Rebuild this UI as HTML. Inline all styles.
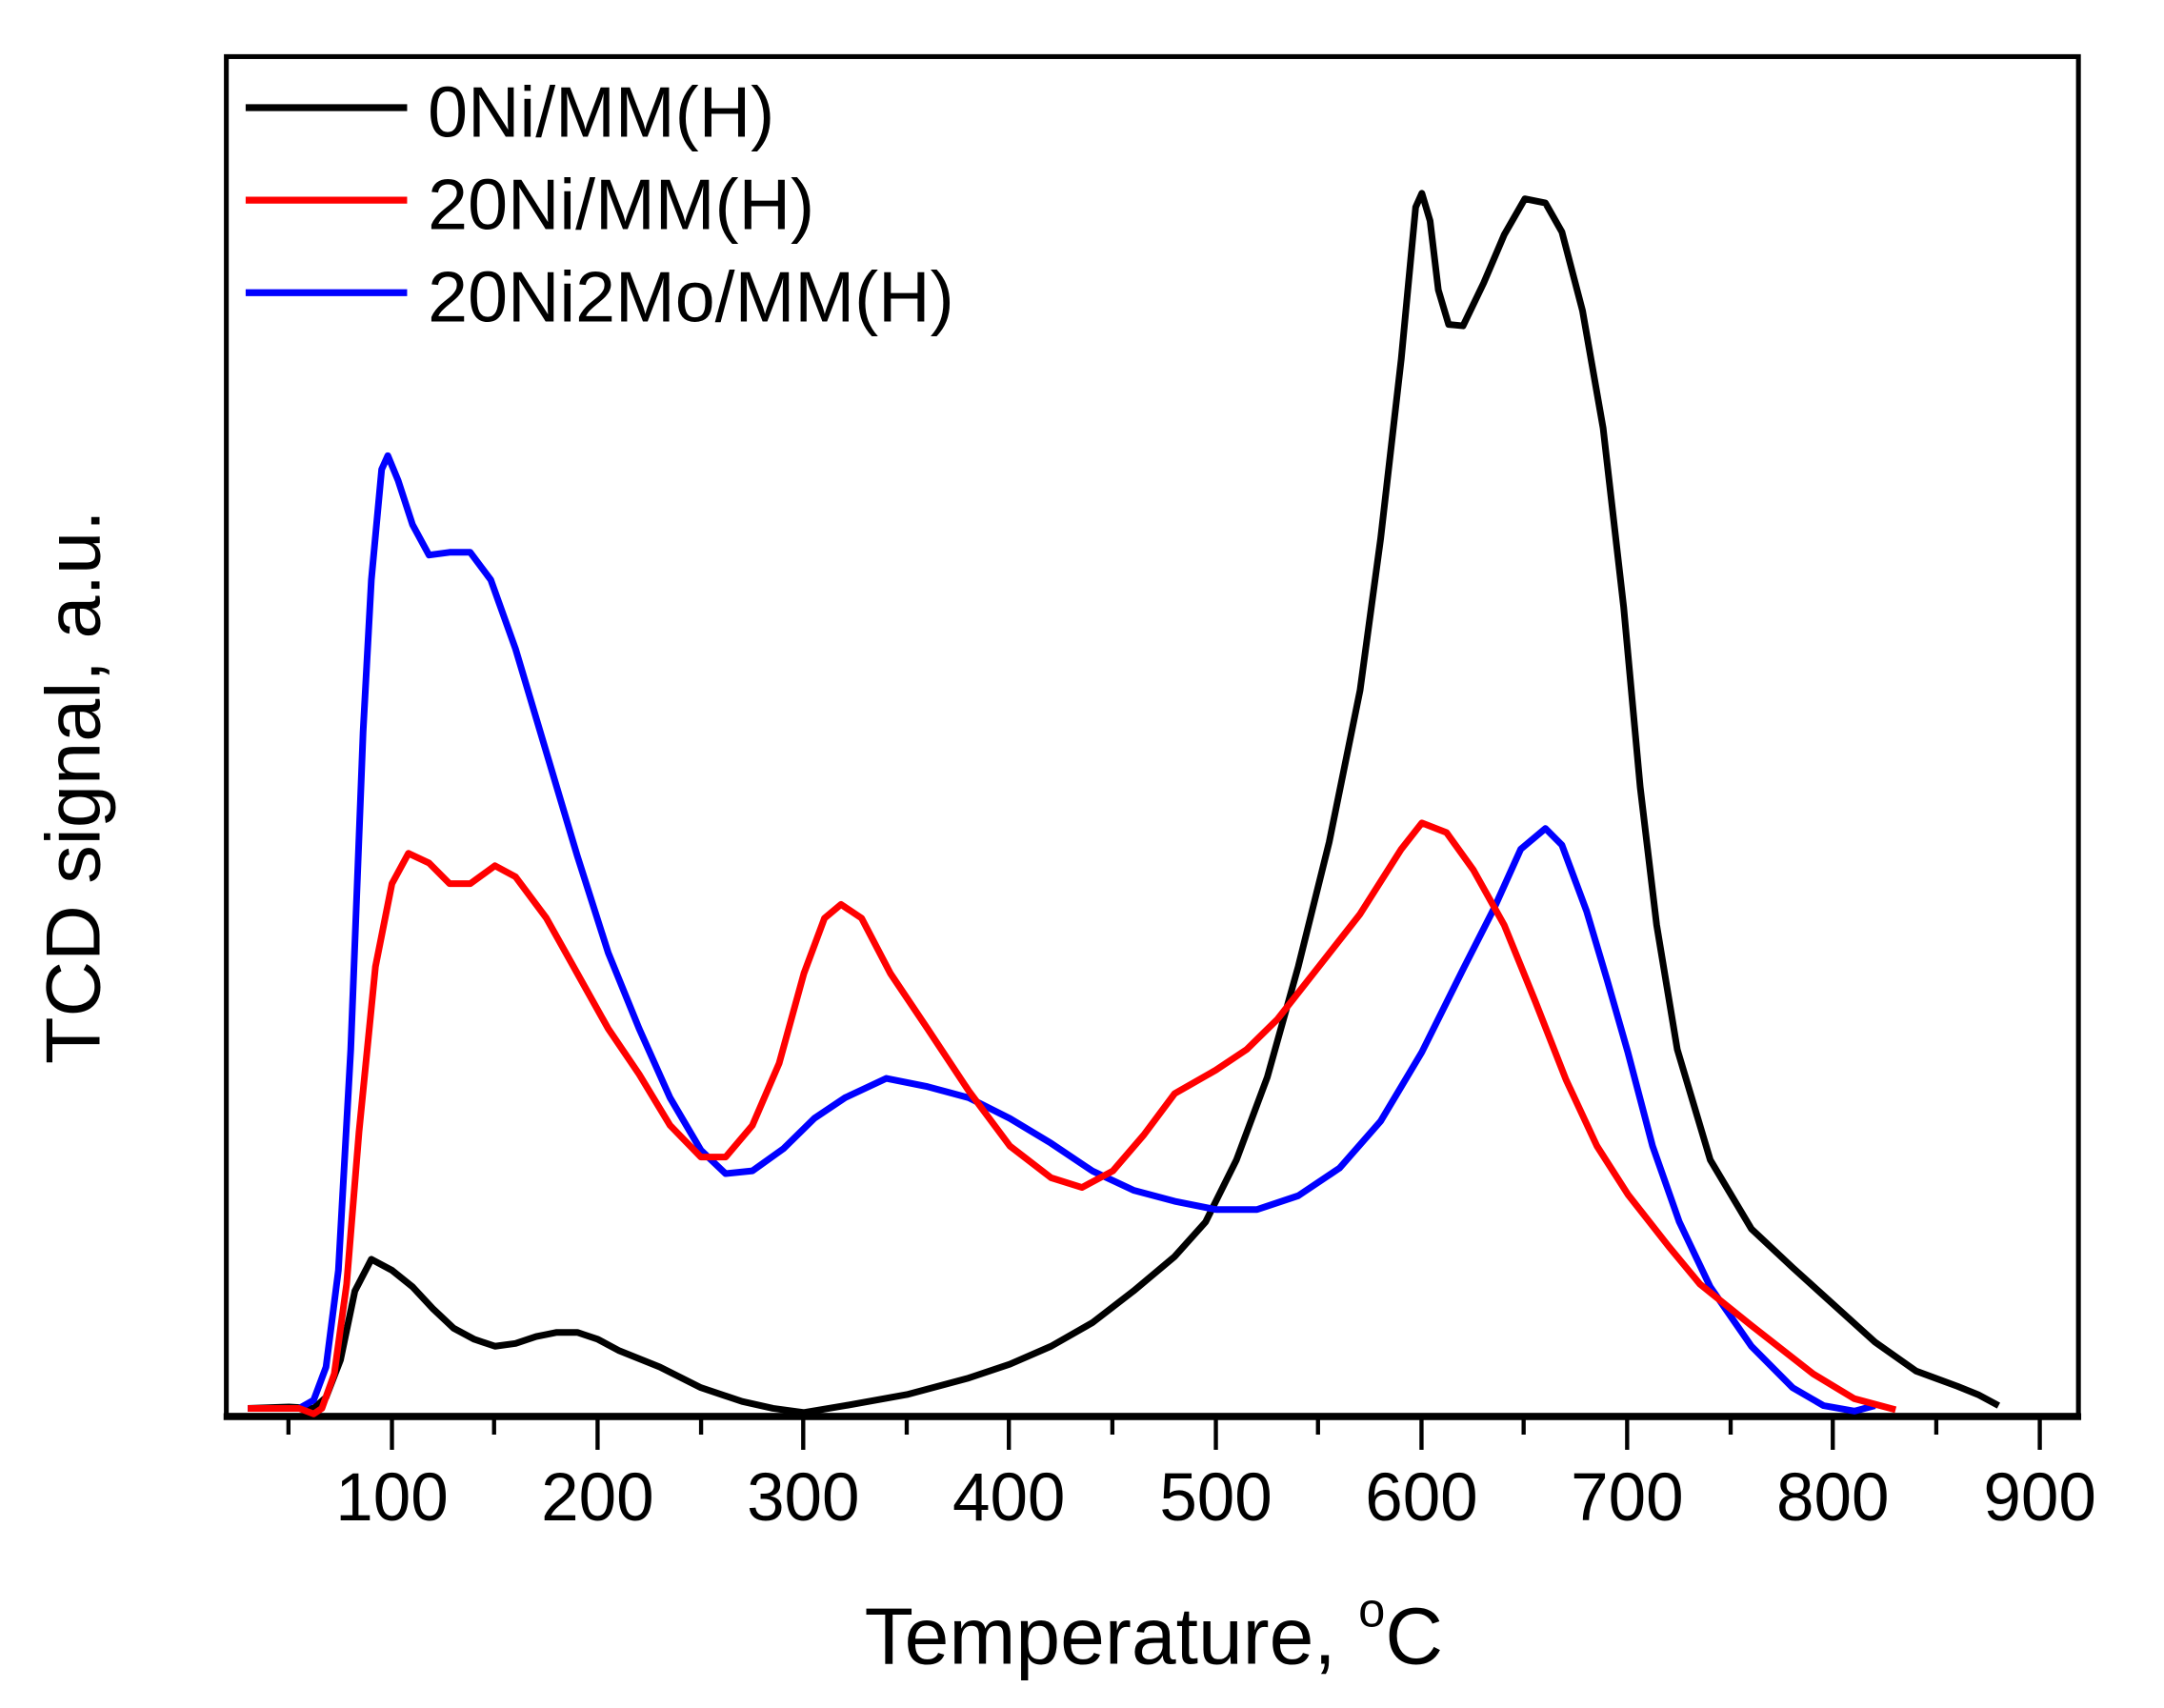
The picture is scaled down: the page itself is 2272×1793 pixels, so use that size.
<!DOCTYPE html>
<html><head><meta charset="utf-8"><style>
html,body{margin:0;padding:0;background:#fff;}
svg{display:block;}
text{font-family:"Liberation Sans",Arial,sans-serif;fill:#000;}
</style></head><body>
<svg width="2272" height="1793" viewBox="0 0 1568 1237" preserveAspectRatio="none" xmlns="http://www.w3.org/2000/svg">
<rect x="0" y="0" width="1568" height="1237" fill="#fff"/>
<!-- frame -->
<rect x="164" y="41" width="1342" height="984" fill="none" stroke="#000" stroke-width="3.5"/>
<line x1="162" y1="1026" x2="1508" y2="1026" stroke="#000" stroke-width="5"/>
<!-- ticks -->
<g stroke="#000" stroke-width="3">
<line x1="284" y1="1026" x2="284" y2="1050"/><line x1="433" y1="1026" x2="433" y2="1050"/>
<line x1="582" y1="1026" x2="582" y2="1050"/><line x1="731" y1="1026" x2="731" y2="1050"/>
<line x1="881" y1="1026" x2="881" y2="1050"/><line x1="1030" y1="1026" x2="1030" y2="1050"/>
<line x1="1179" y1="1026" x2="1179" y2="1050"/><line x1="1328" y1="1026" x2="1328" y2="1050"/>
<line x1="1478" y1="1026" x2="1478" y2="1050"/>
<line x1="209" y1="1026" x2="209" y2="1039"/><line x1="358" y1="1026" x2="358" y2="1039"/>
<line x1="508" y1="1026" x2="508" y2="1039"/><line x1="657" y1="1026" x2="657" y2="1039"/>
<line x1="806" y1="1026" x2="806" y2="1039"/><line x1="955" y1="1026" x2="955" y2="1039"/>
<line x1="1104" y1="1026" x2="1104" y2="1039"/><line x1="1254" y1="1026" x2="1254" y2="1039"/>
<line x1="1403" y1="1026" x2="1403" y2="1039"/>
</g>
<g font-size="49" text-anchor="middle">
<text x="284" y="1101">100</text><text x="433" y="1101">200</text><text x="582" y="1101">300</text>
<text x="731" y="1101">400</text><text x="881" y="1101">500</text><text x="1030" y="1101">600</text>
<text x="1179" y="1101">700</text><text x="1328" y="1101">800</text><text x="1478" y="1101">900</text>
</g>
<text x="836" y="1205" font-size="58" text-anchor="middle">Temperature, <tspan font-size="35" dy="-27">o</tspan><tspan dy="27">C</tspan></text>
<text transform="translate(72,570) rotate(-90)" font-size="56" text-anchor="middle">TCD signal, a.u.</text>
<!-- legend -->
<line x1="178" y1="78" x2="295" y2="78" stroke="#000" stroke-width="5"/>
<line x1="178" y1="145" x2="295" y2="145" stroke="#f00" stroke-width="5"/>
<line x1="178" y1="212" x2="295" y2="212" stroke="#00f" stroke-width="5"/>
<g font-size="52">
<text x="310" y="99">0Ni/MM(H)</text>
<text x="310" y="166">20Ni/MM(H)</text>
<text x="310" y="233">20Ni2Mo/MM(H)</text>
</g>
<!-- data -->
<g transform="translate(134.75,0) scale(1.4925,1)" fill="none" stroke-width="7" stroke-linejoin="round">
<polyline vector-effect="non-scaling-stroke" stroke="#000" points="30,1020 50,1019 62,1020 68,1012 75,985 82,935 90,912 100,920 110,932 120,948 130,962 140,970 150,975 160,973 170,968 180,965 190,965 200,970 210,978 230,990 250,1005 270,1015 285,1020 300,1023 320,1018 350,1010 380,998 400,988 420,975 440,958 460,935 480,910 495,885 510,840 525,780 540,700 555,610 570,500 580,390 590,260 597,150 600,140 604,160 608,210 613,235 620,236 630,205 640,170 650,144 660,147 668,168 678,225 688,310 698,440 706,570 714,670 724,760 740,840 760,890 780,918 800,945 820,972 840,993 860,1004 870,1010 880,1018"/>
<polyline vector-effect="non-scaling-stroke" stroke="#00f" points="30,1020 55,1020 62,1014 68,990 74,920 80,760 86,530 90,420 95,340 98,330 103,348 110,380 118,402 128,400 138,400 148,420 160,470 175,545 190,620 205,690 220,745 235,795 250,833 262,850 275,848 290,832 305,810 320,795 340,781 360,787 380,795 400,810 420,828 440,848 460,862 480,870 500,876 520,876 540,866 560,846 580,812 600,762 620,702 635,658 648,615 660,600 668,612 680,660 690,710 700,762 712,830 725,885 740,932 760,975 780,1005 795,1018 810,1022 820,1018"/>
<polyline vector-effect="non-scaling-stroke" stroke="#f00" points="30,1020 55,1020 62,1024 66,1020 72,995 78,930 84,820 92,700 100,640 108,618 118,625 128,640 138,640 150,627 160,635 175,665 190,705 205,745 220,778 235,815 250,838 262,838 275,815 288,770 300,705 310,665 318,655 328,665 342,705 360,745 380,790 400,830 420,853 435,860 450,848 465,822 480,792 500,775 515,760 530,738 550,700 570,662 590,615 600,596 612,603 625,630 640,670 655,725 670,782 685,830 700,865 720,903 735,930 760,960 790,995 810,1013 830,1021"/>
</g>
</svg>
</body></html>
